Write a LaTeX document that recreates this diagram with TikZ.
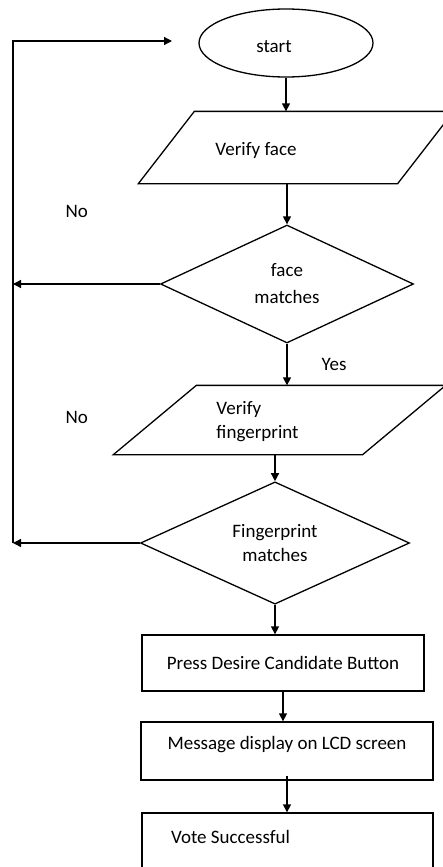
\documentclass[tikz,border=0pt]{standalone}
\usepackage{fontspec}
\setmainfont{Carlito}
\usetikzlibrary{arrows.meta,shapes.geometric}
\tikzset{
    %Define standard arrow tip
    >={Triangle[length=8pt,width=8pt]},
    %Define style for the start node
    terminal/.style={
           ellipse,
           draw=black, line width=1.3pt,
           minimum width=174pt,
           minimum height=68pt,
           inner sep=0pt},
    %Define style for input boxes (outline drawn by hand)
    inout/.style={
           rectangle,
           inner sep=0pt},
    %Define style for questions
    decision/.style={
           diamond,
           draw=black, line width=1.3pt,
           inner sep=0pt,
           font=\fontsize{19}{24}\selectfont,
           align=center},
    %Define style for boxes
    processbox/.style={
           rectangle,
           draw=black, line width=1.3pt,
           inner sep=0pt,
           font=\fontsize{19}{24}\selectfont},
    plaintext/.style={
           font=\fontsize{19}{24}\selectfont,
           inner sep=0pt},
    % Define arrow style
    pil/.style={
           ->,
           line width=1.3pt}
}
\begin{document}
\begin{tikzpicture}[x=1pt,y=-1pt,line width=1.3pt]
\useasboundingbox (0,0) rectangle (443,867);
\clip (0,0) rectangle (443,867);
\node[terminal, label={[plaintext,xshift=-12pt,yshift=-4pt]center:start}] (start) at (286,43) {};
\node[inout, minimum width=314pt, minimum height=71pt,
  label={[plaintext,xshift=-40pt,yshift=-3pt]center:Verify face}] (face) at (296,147.5) {};
\draw (face.south west) -- ([xshift=-56pt]face.south east) -- (face.north east)
  -- ([xshift=56pt]face.north west) -- cycle;
\node[decision, minimum width=253pt, minimum height=118pt] (facematch) at (287,284) {face\\[3pt]matches};
\node[inout, minimum width=331pt, minimum height=68pt,
  label={[plaintext,align=left,xshift=-22pt,yshift=-2pt]center:Verify\\fingerprint}] (finger) at (279.5,420) {};
\draw (finger.south west) -- ([xshift=-83pt]finger.south east) -- (finger.north east)
  -- ([xshift=83pt]finger.north west) -- cycle;
\node[decision, minimum width=269pt, minimum height=119pt] (fingermatch) at (275,543) {Fingerprint\\matches};
\node[processbox, minimum width=282pt, minimum height=56pt] (button) at (283,663) {Press Desire Candidate Button};
\node[processbox, minimum width=292pt, minimum height=58pt,
  label={[plaintext,yshift=6pt]center:Message display on LCD screen}] (lcd) at (287,751) {};
\node[processbox, minimum width=291pt, minimum height=80pt,
  label={[plaintext,xshift=-57pt,yshift=16pt]center:Vote Successful}] (vote) at (287.5,853) {};
\coordinate (top) at (13,41);
\coordinate (bottom) at (13,543);
\coordinate (back) at (172,41);
\draw[pil] (start.south) -- (start.south |- face.north);
\draw[pil] (face.south -| facematch.north) -- (facematch.north);
\draw[pil] (facematch.south) -- node[plaintext, right=34pt] {Yes} (facematch.south |- finger.north);
\draw[pil] (finger.south -| fingermatch.north) -- (fingermatch.north);
\draw[pil] (fingermatch.south) -- (fingermatch.south |- button.north);
\draw[pil] (button.south) -- (button.south |- lcd.north);
\draw[pil] ([yshift=5pt]lcd.south) -- (lcd.south |- vote.north);
\draw[pil] (facematch.west) -- (facematch.west -| top);
\draw[pil] (fingermatch.west) -- (bottom);
\draw[pil] (bottom) -- node[plaintext, pos=.25, right=52pt] {No}
  node[plaintext, pos=.66, right=52pt] {No} (top) -- (back);
\end{tikzpicture}
\end{document}
